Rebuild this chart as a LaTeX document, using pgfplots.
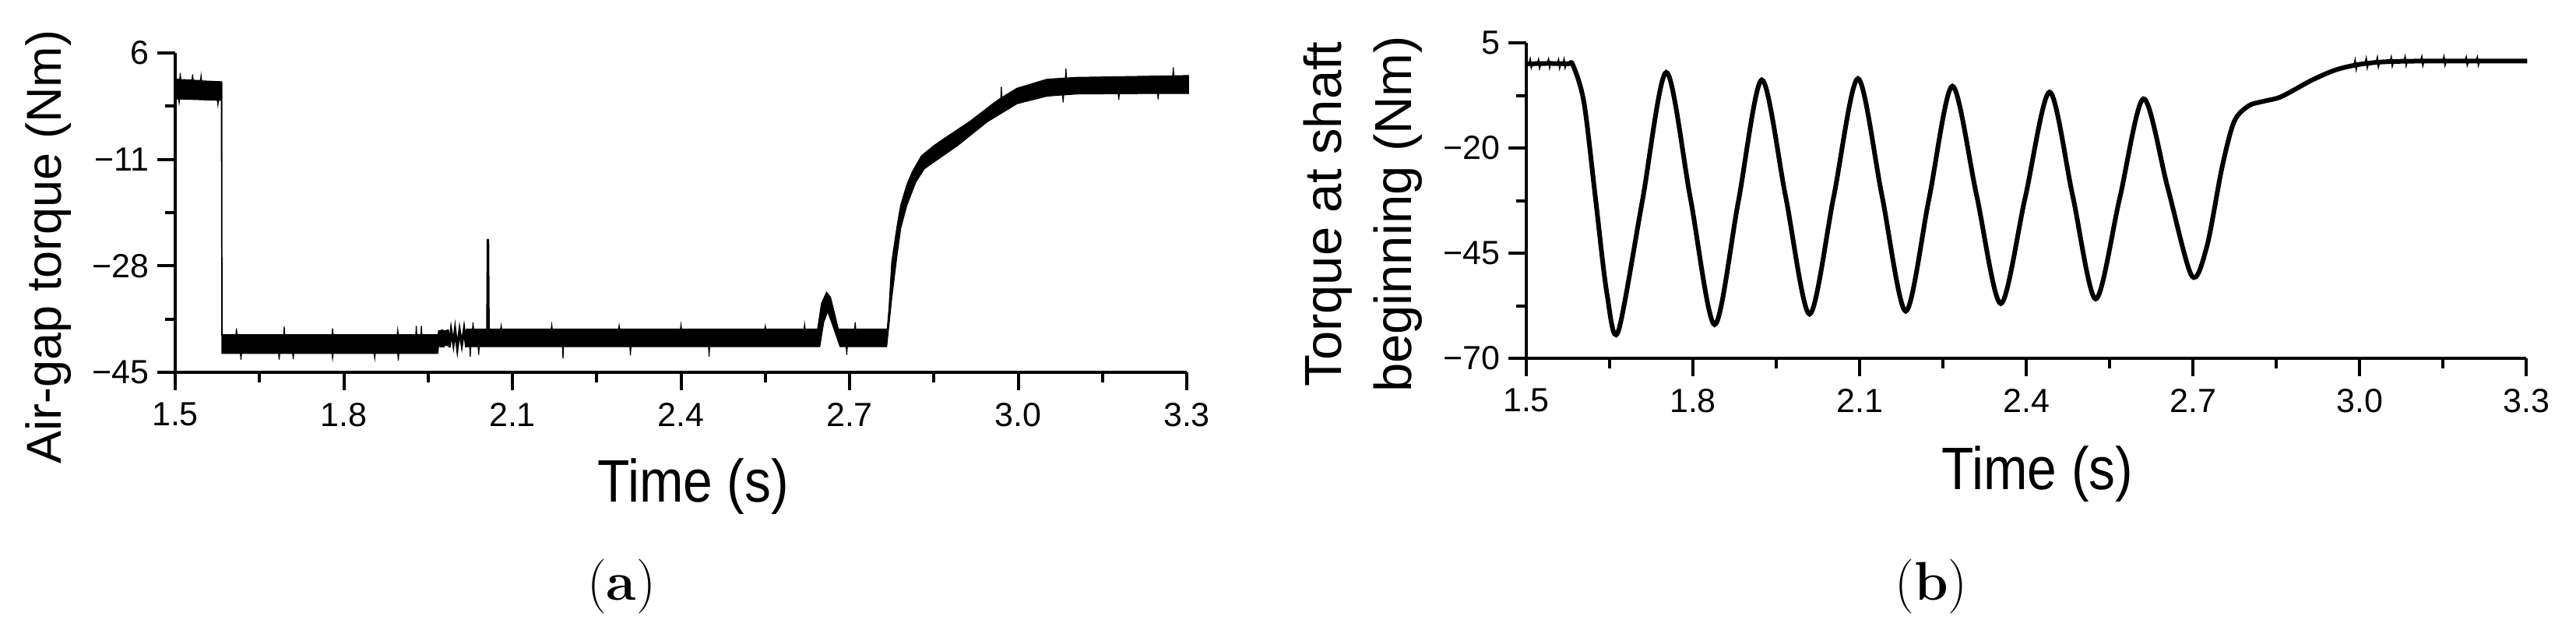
\documentclass[border=0pt]{standalone}
\usepackage{fontspec}
\usepackage{pgfplots}
\pgfplotsset{compat=1.18}
\newfontfamily\arial{Liberation Sans}
\newfontfamily\arialnarrow[FakeStretch=0.88]{Liberation Sans}

\pgfplotsset{
  torque/.style={
    scale only axis,
    axis lines=left,
    axis line style={-, line width=1pt},
    tick style={line width=1pt, black},
    tick align=outside,
    major tick length=5.75pt,
    minor tick length=3.25pt,
    minor x tick num=1,
    minor y tick num=1,
    xmin=1.5, xmax=3.3,
    xtick={1.5,1.8,2.1,2.4,2.7,3.0,3.3},
    xticklabels={1.5,1.8,2.1,2.4,2.7,3.0,3.3},
    ticklabel style={font=\arial\fontsize{10.75}{12}\selectfont},
    xticklabel style={inner sep=3.8pt},
    yticklabel style={inner sep=2.5pt},
    xlabel={Time (s)},
    xlabel style={font=\arialnarrow\fontsize{19.25}{22}\selectfont, anchor=base},
    clip=false,
  },
}

\begin{document}
\begin{tikzpicture}
\path[use as bounding box] (0,0) rectangle (827pt,201pt);

% (a) air-gap torque
\begin{axis}[torque,
    at={(56.25pt,81.5pt)}, anchor=south west,
    width=324.75pt, height=102.5pt,
    ymin=-45, ymax=6,
    ytick={-45,-28,-11,6},
    yticklabels={−45,−28,−11,6},
    xlabel style={at={(axis description cs:0.512,-0.405)}},
    ylabel={Air-gap torque (Nm)},
    ylabel style={font=\arial\fontsize{15.75}{18}\selectfont,
        at={(axis description cs:-0.1124,0.393)}, anchor=base},
]
% band before the step and the low plateau
\addplot[fill=black, draw=black, line width=0.3pt] coordinates {
    (1.500,1.8) (1.508,1.8) (1.509,2.8) (1.510,1.75) (1.530,1.7) (1.531,2.6) (1.532,1.65)
    (1.545,1.6) (1.546,2.4) (1.547,1.55) (1.583,1.4)
    (1.5835,-39.0) (1.608,-39.0) (1.609,-38.0) (1.610,-39.0) (1.693,-39.0) (1.694,-37.7) (1.695,-39.0)
    (1.779,-39.0) (1.780,-38.0) (1.781,-39.0) (1.895,-39.0) (1.896,-38.2) (1.897,-39.0)
    (1.928,-39.0) (1.929,-37.6) (1.930,-39.0) (1.937,-39.0) (1.938,-37.6) (1.939,-39.0) (1.966,-39.0)
    (1.966,-42.0) (1.898,-42.0) (1.897,-43.1) (1.896,-42.0) (1.856,-42.0) (1.855,-42.8) (1.854,-42.0)
    (1.781,-42.0) (1.780,-42.8) (1.779,-42.0) (1.711,-42.0) (1.710,-42.9) (1.709,-42.0)
    (1.686,-42.0) (1.685,-43.0) (1.684,-42.0) (1.618,-42.0) (1.617,-43.0) (1.616,-42.0) (1.583,-42.0)
    (1.582,-1.6) (1.577,-1.55) (1.576,-2.3) (1.575,-1.55) (1.508,-1.35) (1.507,-2.0) (1.506,-1.35)
    (1.500,-1.3) (1.500,1.8)
};
% transition squiggle
\addplot[line width=0.8pt] coordinates {
    (1.966,-42.0) (1.970,-38.3) (1.9725,-41.0) (1.975,-38.2) (1.977,-41.0) (1.980,-38.3)
    (1.9825,-40.8) (1.985,-38.2) (1.988,-41.0) (1.991,-38.3) (1.995,-40.5) (1.998,-38.2)
    (2.002,-41.2) (2.006,-38.3) (2.010,-40.6) (2.014,-38.1) (2.018,-41.0)
};
% band after 2.018 s with bump and recovery
\addplot[fill=black, draw=black, line width=0.3pt] coordinates {
    (2.018,-38.1) (2.029,-38.1) (2.030,-37.0) (2.031,-38.1) (2.079,-38.1) (2.080,-37.5) (2.081,-38.1)
    (2.169,-38.1) (2.170,-37.4) (2.171,-38.1) (2.289,-38.1) (2.290,-37.5) (2.291,-38.1)
    (2.399,-38.1) (2.400,-37.4) (2.401,-38.1) (2.549,-38.1) (2.550,-37.6) (2.551,-38.1)
    (2.619,-38.1) (2.620,-37.3) (2.621,-38.1)
    (2.643,-38.1) (2.650,-34.0) (2.659,-32.2) (2.666,-33.0) (2.673,-35.5) (2.680,-38.1)
    (2.709,-38.1) (2.710,-37.0) (2.711,-38.1) (2.767,-38.1)
    (2.770,-34.9) (2.775,-27.4) (2.781,-23.7) (2.786,-20.8) (2.791,-18.3) (2.802,-15.0)
    (2.812,-12.9) (2.828,-10.4) (2.850,-8.8) (2.871,-7.5) (2.913,-5.0) (2.955,-2.1)
    (2.969,-1.2) (2.970,0.6) (2.971,-1.1) (2.998,0.37) (3.051,1.8)
    (3.084,2.0) (3.085,3.5) (3.086,2.0) (3.104,2.1) (3.275,2.35) (3.276,3.7) (3.277,2.35) (3.303,2.4)
    (3.303,-0.47) (3.250,-0.47) (3.249,-1.4) (3.248,-0.47) (3.180,-0.5) (3.179,-1.5) (3.178,-0.5)
    (3.104,-0.55) (3.081,-0.7) (3.080,-1.9) (3.079,-0.7) (3.051,-0.9) (2.998,-2.1)
    (2.945,-5.0) (2.892,-8.8) (2.860,-10.8) (2.833,-12.5) (2.818,-14.6) (2.802,-18.3)
    (2.791,-22.0) (2.784,-26.6) (2.775,-33.2) (2.766,-40.9)
    (2.696,-40.9) (2.695,-42.2) (2.694,-40.9) (2.683,-40.9) (2.668,-37.0) (2.661,-35.3)
    (2.654,-37.0) (2.647,-40.9)
    (2.451,-40.9) (2.450,-42.5) (2.449,-40.9) (2.311,-40.9) (2.310,-42.3) (2.309,-40.9)
    (2.191,-40.9) (2.190,-42.8) (2.189,-40.9) (2.041,-40.9) (2.040,-42.2) (2.039,-40.9)
    (2.026,-40.9) (2.025,-42.5) (2.024,-40.9) (2.018,-40.9) (2.018,-38.1)
};
% isolated spike
\addplot[line width=0.8pt] coordinates {(2.0555,-38.5) (2.0565,-23.7) (2.0575,-38.5)};
\end{axis}

% (b) torque at shaft beginning
\begin{axis}[torque,
    at={(490pt,86pt)}, anchor=south west,
    width=321pt, height=101.25pt,
    ymin=-70, ymax=5,
    ytick={-70,-45,-20,5},
    yticklabels={−70,−45,−20,5},
    xlabel style={at={(axis description cs:0.511,-0.415)}},
    ylabel={Torque at shaft\\beginning (Nm)},
    ylabel style={font=\arial\fontsize{16.75}{22.5}\selectfont, align=center,
        at={(axis description cs:-0.1636,0.457)}, anchor=center},
]
\addplot[smooth, line width=1.5pt] coordinates {
    (1.500,0.0) (1.540,0.1) (1.575,0.0) (1.584,-0.3) (1.604,-9.3) (1.6245,-31.9) (1.645,-54.5)
    (1.665,-63.8) (1.7085,-32.9) (1.752,-2.0) (1.7955,-32.0) (1.839,-62.0)
    (1.8815,-32.9) (1.924,-3.8) (1.967,-31.65) (2.010,-59.5)
    (2.0535,-31.5) (2.097,-3.5) (2.140,-31.15) (2.183,-58.8)
    (2.225,-32.05) (2.267,-5.3) (2.3105,-31.15) (2.354,-57.0)
    (2.398,-31.85) (2.442,-6.7) (2.4835,-31.3) (2.525,-55.9)
    (2.568,-32.1) (2.611,-8.3) (2.6545,-29.35) (2.698,-50.4)
    (2.725,-43.5) (2.752,-24.9) (2.774,-13.8) (2.800,-10.0) (2.827,-8.9) (2.859,-7.8)
    (2.913,-3.95) (2.956,-1.48) (2.999,-0.13) (3.047,0.5) (3.128,0.68) (3.302,0.68)
};
% small measurement noise on the flat parts
\addplot[line width=0.5pt] coordinates {
    (1.505,0.0) (1.507,1.0) (1.509,-0.8) (1.511,0.0) (1.520,0.0) (1.522,0.9) (1.524,-0.9)
    (1.526,0.0) (1.538,0.1) (1.540,1.0) (1.542,-0.8) (1.544,0.1) (1.556,0.0) (1.558,0.9)
    (1.560,-0.9) (1.562,0.0) (1.566,0.0) (1.568,1.0) (1.570,-0.8) (1.572,0.0)
};
\addplot[line width=0.5pt] coordinates {
    (2.990,-0.3) (2.992,0.8) (2.994,-1.2) (2.996,-0.2) (3.010,0.1) (3.012,1.2) (3.014,-0.8)
    (3.016,0.2) (3.030,0.35) (3.032,1.4) (3.034,-0.6) (3.036,0.4) (3.055,0.55) (3.057,1.5)
    (3.059,-0.4) (3.061,0.55) (3.080,0.62) (3.082,1.6) (3.084,-0.3) (3.086,0.62)
    (3.110,0.66) (3.112,1.6) (3.114,-0.3) (3.116,0.66) (3.150,0.68) (3.152,1.6) (3.154,-0.2)
    (3.156,0.68) (3.190,0.68) (3.192,1.5) (3.194,-0.2) (3.196,0.68) (3.210,0.68) (3.212,1.5)
    (3.214,-0.2) (3.216,0.68)
};
\end{axis}

\node[font=\fontsize{17.5}{20}\selectfont, anchor=base] at (199.5pt,8.5pt) {(\textbf{a})};
\node[font=\fontsize{17.5}{20}\selectfont, anchor=base] at (620pt,8.5pt) {(\textbf{b})};
\end{tikzpicture}
\end{document}
